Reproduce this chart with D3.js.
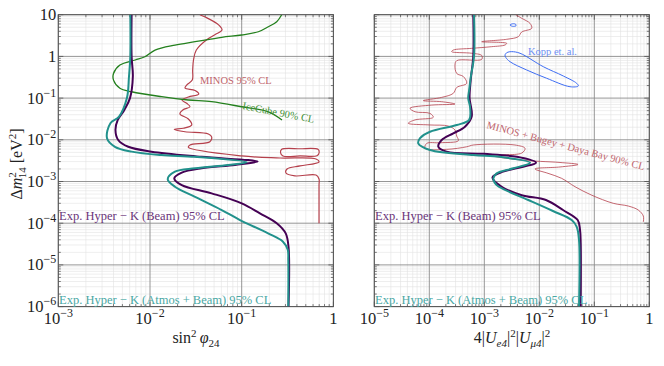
<!DOCTYPE html>
<html>
<head>
<meta charset="utf-8">
<script src="https://cdn.jsdelivr.net/npm/d3@7"></script>
<style>
  body { margin: 0; background: #fff; }
  svg { display: block; }
</style>
</head>
<body>
<div id="chart-wrapper"></div>
<script>
// ---- Data ----
// Left panel: sin^2(phi_24) vs dm^2_14
const beamLeft = [[6.3e-3,10],[6.3e-3,1],[6.5e-3,0.33],[6.05e-3,0.1],[5.25e-3,0.052],[4.45e-3,0.030],[4.2e-3,0.0172],[4.5e-3,9.9e-3],[5.8e-3,6.8e-3],[0.0104,5.2e-3],[0.0366,3.9e-3],[0.149,3.0e-3],[0.0845,2.5e-3],[0.0366,2.07e-3],[0.0222,1.63e-3],[0.0184,1.19e-3],[0.0222,8.2e-4],[0.047,5.2e-4],[0.1,3.0e-4],[0.158,1.73e-4],[0.241,1.0e-4],[0.302,5.7e-5],[0.324,2.7e-5],[0.324,1e-6]]
const atmosBeamLeft = [[6.1e-3,10],[6.1e-3,1],[5.9e-3,0.33],[5.6e-3,0.1],[4.6e-3,0.036],[3.7e-3,0.025],[3.4e-3,0.0109],[4.15e-3,6.8e-3],[6.3e-3,5.2e-3],[0.0134,4.3e-3],[0.031,3.9e-3],[0.1135,2.9e-3],[0.071,2.5e-3],[0.031,2.07e-3],[0.0187,1.72e-3],[0.0156,1.13e-3],[0.0187,7.5e-4],[0.031,4.3e-4],[0.0605,2.07e-4],[0.0958,1.19e-4],[0.194,5.7e-5],[0.282,3.6e-5],[0.318,2.3e-5],[0.322,1.3e-5],[0.322,1e-6]]
const minosLeft = [[0.035,10],[0.040,8.8],[0.056,5.7],[0.061,4.3],[0.051,3.3],[0.0415,2.5],[0.032,1.42],[0.0298,0.82],[0.0292,0.47],[0.0289,0.27],[0.0251,0.206],[0.0241,0.175],[0.031,0.152],[0.034,0.125],[0.0262,0.106],[0.0223,0.090],[0.0251,0.075],[0.0273,0.062],[0.0228,0.052],[0.0212,0.042],[0.0262,0.0316],[0.0285,0.0226],[0.0231,0.0189],[0.0184,0.0177],[0.0241,0.0156],[0.0433,0.0138],[0.047,0.0117],[0.045,9.0e-3],[0.0273,7.5e-3],[0.0262,6.6e-3],[0.1,4.1e-3],[0.262,3.66e-3],[0.646,3.47e-3],[0.697,2.94e-3],[0.433,2.36e-3],[0.312,2.0e-3],[0.304,1.6e-3],[0.381,1.36e-3],[0.646,1.43e-3],[0.697,1.15e-3],[0.697,8.1e-4],[0.697,1e-4]]
const minosLeftIsland = [[0.273,5.9e-3],[0.433,6.1e-3],[0.679,5.9e-3],[0.700,4.95e-3],[0.663,4.16e-3],[0.433,4.1e-3],[0.282,4.1e-3],[0.265,4.9e-3]]
const iceCube = [[0.273,10],[0.241,6.8],[0.195,5.15],[0.152,3.9],[0.1,3.26],[0.0605,2.87],[0.031,2.25],[0.01874,1.87],[0.01135,1.42],[8.8e-3,0.98],[6.9e-3,0.82],[4.7e-3,0.62],[4.0e-3,0.39],[4.0e-3,0.27],[4.7e-3,0.172],[6.3e-3,0.142],[0.0134,0.108],[0.0262,0.090],[0.047,0.082],[0.1,0.062],[0.195,0.047],[0.275,0.030]]

// Right panel: 4|Ue4|^2|Umu4|^2 vs dm^2_14
const beamRight = [[6.3e-4,10],[6.3e-4,1],[5.66e-4,0.27],[5.4e-4,0.1],[5.9e-4,0.036],[4.45e-4,0.0206],[2.73e-4,0.0143],[1.68e-4,9.9e-3],[1.46e-4,6.8e-3],[2.07e-4,5.2e-3],[9.6e-4,4.6e-3],[3.9e-3,3.9e-3],[8.7e-3,2.83e-3],[5.1e-3,2.26e-3],[2.2e-3,1.72e-3],[1.41e-3,1.25e-3],[2.07e-3,7.5e-4],[4.8e-3,4.7e-4],[0.0132,3.6e-4],[0.027,2.07e-4],[0.0499,1.19e-4],[0.055,6.9e-5],[0.0566,3.3e-5],[0.0566,1e-6]]
const atmosBeamRight = [[6.5e-4,10],[6.5e-4,1],[5.7e-4,0.33],[5.3e-4,0.156],[5.1e-4,0.099],[5.5e-4,0.062],[5.3e-4,0.030],[3.15e-4,0.0226],[1.03e-4,0.0156],[6.8e-5,0.0109],[6.3e-5,8.2e-3],[1.03e-4,5.7e-3],[6.3e-4,4.3e-3],[1.93e-3,3.9e-3],[6.8e-3,2.83e-3],[3.37e-3,2.07e-3],[1.68e-3,1.57e-3],[1.46e-3,1.19e-3],[1.68e-3,8.2e-4],[2.38e-3,6.3e-4],[6.3e-3,3.6e-4],[0.0177,1.96e-4],[0.0388,1.19e-4],[0.0479,8.2e-5],[0.0527,4.0e-5],[0.0527,1e-6]]
const minosBugeyDayaBay = [[3.72e-3,10],[4.79e-3,8.2],[6.78e-3,6.2],[7.28e-3,4.72],[4.79e-3,3.85],[4.15e-3,2.97],[2.55e-3,2.57],[8.98e-4,2.25],[2.55e-3,2.06],[2.38e-3,1.88],[1.36e-3,1.71],[5.9e-4,1.56],[2.73e-4,1.42],[2.55e-4,1.30],[5.9e-4,1.19],[8.98e-4,1.05],[8.98e-4,0.85],[3.15e-4,0.79],[2.93e-4,0.62],[3.15e-4,0.39],[4.15e-4,0.33],[4.79e-4,0.226],[3.15e-4,0.18],[2.73e-4,0.13],[1.68e-4,0.104],[7.8e-5,0.087],[1.68e-4,0.082],[2.93e-4,0.072],[1.11e-4,0.068],[4.46e-5,0.057],[5.5e-5,0.047],[1.03e-4,0.043],[1.18e-4,0.0346],[5.5e-5,0.030],[4.15e-5,0.0249],[1.03e-4,0.0227],[2.21e-4,0.0214],[2.93e-4,0.0172],[3.15e-4,0.0123],[3.37e-4,9.5e-3],[1.57e-4,8.5e-3],[8.98e-5,8.2e-3],[8.35e-5,6.25e-3],[2.07e-4,5.9e-3],[4.79e-4,6.8e-3],[6.3e-4,7.5e-3],[3.61e-3,7.5e-3],[5.5e-3,6.25e-3],[4.79e-3,4.8e-3],[1.27e-3,4.3e-3],[4.46e-3,3.28e-3],[0.0238,2.86e-3],[0.0506,2.56e-3],[0.0238,2.23e-3],[8.36e-3,2.0e-3],[0.0144,1.57e-3],[0.0255,1.19e-3],[0.0446,7.5e-4],[0.0897,4.7e-4],[0.221,3.0e-4],[0.415,2.58e-4],[0.63,2.07e-4],[0.778,1.49e-4],[0.778,1.07e-4]]
const koppFit = [[2.38e-3,1.08],[2.59e-3,1.24],[3.15e-3,1.30],[4.46e-3,1.19],[0.0118,0.567],[0.0273,0.339],[0.0479,0.226],[0.0512,0.195],[0.0361,0.1875],[0.0136,0.299],[5.9e-3,0.472],[2.93e-3,0.747],[2.45e-3,0.95]]
const koppIsland = [[2.93e-3,5.66],[3.26e-3,6.05],[3.72e-3,5.89],[3.77e-3,5.42],[3.26e-3,5.27]]

// Axis ticks
const yTicks = [1e-6,1e-5,1e-4,1e-3,1e-2,1e-1,1,10]
const xTicksLeft = [1e-3,1e-2,1e-1,1]
const xTicksRight = [1e-5,1e-4,1e-3,1e-2,1e-1,1]

// ---- Styles ----
const font = "'Liberation Serif', 'DejaVu Serif', serif"
const col = {
  beam: "#440154", atmos: "#21918c",
  beamText: "#6a3479", atmosText: "#4aa8a4",
  minos: "#b5404c", minosText: "#c0646c",
  ice: "#24801e", iceText: "#3f8f35",
  kopp: "#3d6cf2", koppText: "#6e8ff2"
}

const width = 664, height = 366
const plotTop = 14.7, plotBottom = 306.6

const svg = d3.select("#chart-wrapper").append("svg")
  .attr("width", width).attr("height", height)
  .style("font-family", font)

const yScale = d3.scaleLog().domain([1e-6, 10]).range([plotBottom, plotTop])

// minor tick values for a log domain
const minorTicks = (lo, hi) => {
  const out = []
  for (let e = Math.round(Math.log10(lo)); e < Math.round(Math.log10(hi)); e++)
    for (let k = 2; k <= 9; k++) out.push(k * Math.pow(10, e))
  return out
}

const tickLabel = (sel, v) => {
  const e = Math.round(Math.log10(v))
  if (e === 0) sel.text("1")
  else if (e === 1) sel.text("10")
  else {
    sel.append("tspan").text("10")
    sel.append("tspan").attr("dy", -7).attr("font-size", 12).text("\u2212" + (-e))
  }
}

const drawPanel = (x0, x1, xDomain, xTicks, showY) => {
  const xScale = d3.scaleLog().domain(xDomain).range([x0, x1])
  const g = svg.append("g")

  const xMinor = minorTicks(xDomain[0], xDomain[1])
  const yMinor = minorTicks(1e-6, 10)

  // grid
  g.selectAll(".gxm").data(xMinor).join("line")
    .attr("x1", d => xScale(d)).attr("x2", d => xScale(d))
    .attr("y1", plotTop).attr("y2", plotBottom)
    .attr("stroke", "#e2e2e2").attr("stroke-width", 0.6)
  g.selectAll(".gym").data(yMinor).join("line")
    .attr("x1", x0).attr("x2", x1)
    .attr("y1", d => yScale(d)).attr("y2", d => yScale(d))
    .attr("stroke", "#e2e2e2").attr("stroke-width", 0.6)
  g.selectAll(".gx").data(xTicks).join("line")
    .attr("x1", d => xScale(d)).attr("x2", d => xScale(d))
    .attr("y1", plotTop).attr("y2", plotBottom)
    .attr("stroke", "#8a8a8a").attr("stroke-width", 0.9)
  g.selectAll(".gy").data(yTicks).join("line")
    .attr("x1", x0).attr("x2", x1)
    .attr("y1", d => yScale(d)).attr("y2", d => yScale(d))
    .attr("stroke", "#8a8a8a").attr("stroke-width", 0.9)

  // inward ticks on all sides
  const tickG = g.append("g").attr("stroke", "#444").attr("stroke-width", 0.7)
  xTicks.concat(xMinor).forEach(d => {
    const len = xTicks.includes(d) ? 5 : 2.5
    tickG.append("line").attr("x1", xScale(d)).attr("x2", xScale(d)).attr("y1", plotBottom).attr("y2", plotBottom - len)
    tickG.append("line").attr("x1", xScale(d)).attr("x2", xScale(d)).attr("y1", plotTop).attr("y2", plotTop + len)
  })
  yTicks.concat(yMinor).forEach(d => {
    const len = yTicks.includes(d) ? 5 : 2.5
    tickG.append("line").attr("y1", yScale(d)).attr("y2", yScale(d)).attr("x1", x0).attr("x2", x0 + len)
    tickG.append("line").attr("y1", yScale(d)).attr("y2", yScale(d)).attr("x1", x1).attr("x2", x1 - len)
  })

  // frame
  g.append("rect").attr("x", x0).attr("y", plotTop)
    .attr("width", x1 - x0).attr("height", plotBottom - plotTop)
    .attr("fill", "none").attr("stroke", "#555").attr("stroke-width", 1)

  // x tick labels
  g.selectAll(".xt").data(xTicks).join("text")
    .attr("x", d => xScale(d)).attr("y", 324)
    .attr("text-anchor", "middle").attr("font-size", 16.5).attr("fill", "#222")
    .each(function (d) { tickLabel(d3.select(this), d) })

  if (showY) {
    g.selectAll(".yt").data(yTicks).join("text")
      .attr("x", x0 - 2).attr("y", d => yScale(d) + 5.5)
      .attr("text-anchor", "end").attr("font-size", 16.5).attr("fill", "#222")
      .each(function (d) { tickLabel(d3.select(this), d) })
  }

  const line = d3.line().x(d => xScale(d[0])).y(d => yScale(d[1])).curve(d3.curveCatmullRom.alpha(0.5))
  const closed = d3.line().x(d => xScale(d[0])).y(d => yScale(d[1])).curve(d3.curveCatmullRomClosed.alpha(0.5))
  const clip = "clip" + Math.round(x0)
  svg.append("clipPath").attr("id", clip).append("rect")
    .attr("x", x0).attr("y", plotTop).attr("width", x1 - x0).attr("height", plotBottom - plotTop)
  const curves = g.append("g").attr("clip-path", `url(#${clip})`).attr("fill", "none")
  return { xScale, g, curves, line, closed }
}

// ---- Left panel ----
const L = drawPanel(58.3, 333.4, [1e-3, 1], xTicksLeft, true)
L.curves.append("path").attr("d", L.line(minosLeft)).attr("stroke", col.minos).attr("stroke-width", 1.2)
L.curves.append("path").attr("d", L.closed(minosLeftIsland)).attr("stroke", col.minos).attr("stroke-width", 1.2)
L.curves.append("path").attr("d", L.line(iceCube)).attr("stroke", col.ice).attr("stroke-width", 1.3)
L.curves.append("path").attr("d", L.line(beamLeft)).attr("stroke", col.beam).attr("stroke-width", 2)
L.curves.append("path").attr("d", L.line(atmosBeamLeft)).attr("stroke", col.atmos).attr("stroke-width", 2)

L.g.append("text").attr("x", 200).attr("y", 83.5).attr("font-size", 10.5).attr("fill", col.minosText).text("MINOS 95% CL")
L.g.append("text").attr("transform", "translate(242,109) rotate(11)").attr("font-size", 10.5).attr("fill", col.iceText).text("IceCube 90% CL")
L.g.append("text").attr("x", 59).attr("y", 220).attr("font-size", 12.5).attr("fill", col.beamText).text("Exp. Hyper \u2212 K (Beam) 95% CL")
L.g.append("text").attr("x", 59).attr("y", 303.5).attr("font-size", 12.5).attr("fill", col.atmosText).text("Exp. Hyper \u2212 K (Atmos + Beam) 95% CL")

// ---- Right panel ----
const R = drawPanel(374.3, 649.3, [1e-5, 1], xTicksRight, false)
R.curves.append("path").attr("d", R.line(minosBugeyDayaBay)).attr("stroke", col.minos).attr("stroke-width", 0.8)
R.curves.append("path").attr("d", R.closed(koppFit)).attr("stroke", col.kopp).attr("stroke-width", 1)
R.curves.append("path").attr("d", R.closed(koppIsland)).attr("stroke", col.kopp).attr("stroke-width", 1)
R.curves.append("path").attr("d", R.line(beamRight)).attr("stroke", col.beam).attr("stroke-width", 2)
R.curves.append("path").attr("d", R.line(atmosBeamRight)).attr("stroke", col.atmos).attr("stroke-width", 2)

R.g.append("text").attr("x", 528).attr("y", 54.5).attr("font-size", 10.5).attr("fill", col.koppText).text("Kopp et. al.")
R.g.append("text").attr("transform", "translate(486,128) rotate(15)").attr("font-size", 10.5).attr("fill", col.minosText).text("MINOS + Bugey + Daya Bay 90% CL")
R.g.append("text").attr("x", 375).attr("y", 220).attr("font-size", 12.5).attr("fill", col.beamText).text("Exp. Hyper \u2212 K (Beam) 95% CL")
R.g.append("text").attr("x", 375).attr("y", 303.5).attr("font-size", 12.5).attr("fill", col.atmosText).text("Exp. Hyper \u2212 K (Atmos + Beam) 95% CL")

// ---- Axis titles ----
const xl = svg.append("text").attr("x", 196).attr("y", 343).attr("text-anchor", "middle").attr("font-size", 16).attr("fill", "#222")
xl.append("tspan").text("sin")
xl.append("tspan").attr("dy", -6.5).attr("font-size", 11).text("2")
xl.append("tspan").attr("dy", 6.5).text("\u2009")
xl.append("tspan").attr("font-style", "italic").text("\u03c6")
xl.append("tspan").attr("dy", 4).attr("font-size", 11).text("24")

const xr = svg.append("text").attr("x", 512).attr("y", 343).attr("text-anchor", "middle").attr("font-size", 16).attr("fill", "#222")
xr.append("tspan").text("4|")
xr.append("tspan").attr("font-style", "italic").text("U")
xr.append("tspan").attr("dy", 4).attr("font-size", 11).attr("font-style", "italic").text("e4")
xr.append("tspan").attr("dy", -4).text("|")
xr.append("tspan").attr("dy", -6).attr("font-size", 11).text("2")
xr.append("tspan").attr("dy", 6).text("|")
xr.append("tspan").attr("font-style", "italic").text("U")
xr.append("tspan").attr("dy", 4).attr("font-size", 11).attr("font-style", "italic").text("\u03bc4")
xr.append("tspan").attr("dy", -4).text("|")
xr.append("tspan").attr("dy", -6).attr("font-size", 11).text("2")

const yl = svg.append("text").attr("transform", "translate(22,164) rotate(-90)").attr("text-anchor", "middle").attr("font-size", 16).attr("fill", "#222")
yl.append("tspan").text("\u0394")
yl.append("tspan").attr("font-style", "italic").text("m")
yl.append("tspan").attr("dy", -6.5).attr("font-size", 11).text("2")
yl.append("tspan").attr("dx", -6).attr("dy", 10.5).attr("font-size", 11).text("14")
yl.append("tspan").attr("dy", -4).text(" [eV")
yl.append("tspan").attr("dy", -6.5).attr("font-size", 11).text("2")
yl.append("tspan").attr("dy", 6.5).text("]")
</script>
</body>
</html>
